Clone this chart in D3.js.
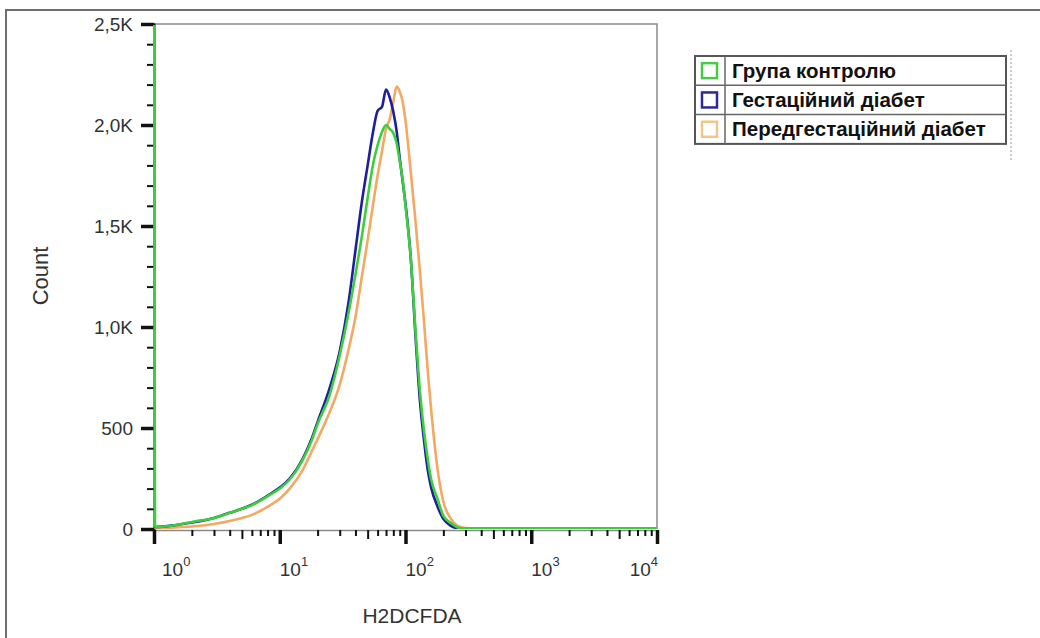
<!DOCTYPE html>
<html>
<head>
<meta charset="utf-8">
<script src="https://cdn.jsdelivr.net/npm/d3@7"></script>
<style>
  body { margin: 0; background: #fff; }
  text { font-family: "Liberation Sans", Arial, sans-serif; }
</style>
</head>
<body>
<script>
// channel values (H2DCFDA, log axis) shared by all three histograms
var channel = [1, 1.02, 1.5, 2, 3, 4, 5, 6, 8, 10, 12, 15, 18, 20, 25, 30, 35, 40, 45, 50, 55, 60, 65, 70, 75, 80, 85, 90, 95, 100,
               110, 120, 130, 140, 150, 160, 180, 200, 230, 260, 300, 500, 1000, 3000, 10000];

var controlCounts = [4000, 10, 20, 35, 55, 80, 100, 118, 162, 200, 245, 335, 440, 520, 665, 860, 1060, 1260, 1450, 1640, 1800, 1900, 1965, 2000, 1980, 1960, 1910, 1820, 1730, 1600,
                     1345, 985, 690, 490, 350, 245, 148, 65, 30, 8, 3, 3, 3, 3, 3];
var gestCounts = [10, 10, 20, 32, 55, 80, 100, 120, 165, 205, 250, 340, 450, 530, 700, 880, 1110, 1380, 1620, 1800, 1960, 2070, 2090, 2175, 2135, 2065, 1970, 1835, 1720, 1610,
                  1345, 960, 640, 445, 295, 205, 110, 50, 15, 4, 2, 2, 2, 2, 2];
var pregestCounts = [5, 5, 8, 12, 25, 40, 55, 70, 110, 150, 200, 285, 385, 445, 580, 715, 880, 1050, 1250, 1430, 1600, 1750, 1870, 1980, 2030, 2115, 2190, 2165, 2115, 2020,
                     1770, 1525, 1280, 1035, 790, 590, 295, 135, 50, 15, 5, 2, 2, 2, 2];

var seriesNames = ["Група контролю", "Гестаційний діабет", "Передгестаційний діабет"];
var seriesColors = ["#3ccf3c", "#1e1e9e", "#f4a862"];
var swatchColors = ["#45cc45", "#2a2a9a", "#f0c68c"];

var yMajor = [0, 500, 1000, 1500, 2000, 2500];
var yLabels = ["0", "500", "1,0K", "1,5K", "2,0K", "2,5K"];
var xMajor = [1, 10, 100, 1000, 10000];
var xExp = ["0", "1", "2", "3", "4"];

var svg = d3.select("body").append("svg")
    .attr("width", 1040)
    .attr("height", 638);

// outer frame
svg.append("path")
    .attr("d", "M6,640 L6,10 L1042,10")
    .attr("fill", "none")
    .attr("stroke", "#6e6e6e")
    .attr("stroke-width", 2);

var x = d3.scaleLog().domain([1, 10000]).range([154, 657]);
var y = d3.scaleLinear().domain([0, 2500]).range([529, 24]);

// plot border (top + right)
svg.append("path")
    .attr("d", "M" + x(1) + "," + y(2500) + " L" + x(10000) + "," + y(2500) + " L" + x(10000) + "," + y(0))
    .attr("fill", "none")
    .attr("stroke", "#8a8a8a")
    .attr("stroke-width", 1.5);

// y axis minor
var yMinor = d3.range(0, 2501, 100).filter(function(d){ return d % 500 != 0; });
var gyMinor = svg.append("g")
    .attr("transform", "translate(" + x(1) + ",0)")
    .call(d3.axisLeft(y).tickValues(yMinor).tickSize(7).tickFormat(""));
gyMinor.select(".domain").remove();
gyMinor.selectAll("line").attr("stroke", "#111").attr("stroke-width", 2);

var gy = svg.append("g")
    .attr("transform", "translate(" + x(1) + ",0)")
    .call(d3.axisLeft(y).tickValues(yMajor).tickSize(13).tickPadding(8)
        .tickFormat(function(d, i){ return yLabels[i]; }));
gy.select(".domain").attr("stroke", "#111").attr("stroke-width", 2);
gy.selectAll("line").attr("stroke", "#111").attr("stroke-width", 3.5);
gy.selectAll("text").attr("font-size", 19).attr("fill", "#333")
    .attr("font-family", "Liberation Sans, Arial, sans-serif");

// x axis minor
var xMinor = [];
for (var k = 0; k < 4; k++) {
  for (var m = 2; m <= 9; m++) xMinor.push(m * Math.pow(10, k));
}
var gxMinor = svg.append("g")
    .attr("transform", "translate(0," + (y(0) + 1) + ")")
    .call(d3.axisBottom(x).tickValues(xMinor).tickSizeInner(6).tickSizeOuter(0).tickFormat(""));
gxMinor.select(".domain").attr("stroke", "#8a8a8a").attr("stroke-width", 1.5);
gxMinor.selectAll("line").attr("stroke", "#111").attr("stroke-width", 2)
    .attr("y2", function(d){ return (d / Math.pow(10, Math.floor(Math.log10(d) + 1e-9)) == 5) ? 9 : 6; });

var gx = svg.append("g")
    .attr("transform", "translate(0," + (y(0) + 1) + ")")
    .call(d3.axisBottom(x).tickValues(xMajor).tickSize(14).tickFormat(""));
gx.select(".domain").remove();
gx.selectAll("line").attr("stroke", "#111").attr("stroke-width", 3.5);

var xl = svg.append("g").selectAll("text")
    .data(xMajor)
    .enter()
    .append("text")
    .attr("x", function(d, i){ return i == 0 ? x(d) + 8 : (i == 4 ? x(d) + 1 : x(d)); })
    .attr("y", 576)
    .attr("text-anchor", function(d, i){ return i == 4 ? "end" : "start"; })
    .attr("font-size", 19)
    .attr("fill", "#333");
xl.append("tspan").text("10");
xl.append("tspan").attr("dy", -10).attr("font-size", 13).text(function(d, i){ return xExp[i]; });

// axis titles
svg.append("text")
    .attr("transform", "translate(48,276) rotate(-90)")
    .attr("text-anchor", "middle")
    .attr("font-size", 22)
    .attr("fill", "#333")
    .text("Count");

svg.append("text")
    .attr("x", 412)
    .attr("y", 623)
    .attr("text-anchor", "middle")
    .attr("font-size", 21)
    .attr("fill", "#333")
    .text("H2DCFDA");

// histograms
svg.append("clipPath").attr("id", "plotclip")
  .append("rect")
    .attr("x", x(1) - 2).attr("y", y(2500) + 1)
    .attr("width", x(10000) - x(1) + 2).attr("height", y(0) - y(2500) - 1);

var line = d3.line()
    .x(function(d){ return x(d[0]); })
    .y(function(d){ return y(d[1]); })
    .curve(d3.curveMonotoneX);

var allCounts = [controlCounts, gestCounts, pregestCounts];
var drawOrder = [2, 1, 0];
var plot = svg.append("g").attr("clip-path", "url(#plotclip)");
drawOrder.forEach(function(s){
  plot.append("path")
      .datum(channel.map(function(c, i){ return [c, allCounts[s][i]]; }))
      .attr("d", line)
      .attr("fill", "none")
      .attr("stroke", seriesColors[s])
      .attr("stroke-width", 2.6)
      .attr("stroke-linejoin", "round");
});

// legend
var lgX = 695, lgY = 56, lgW = 311, rowH = 29.3;
var lg = svg.append("g");
lg.append("rect")
    .attr("x", lgX).attr("y", lgY)
    .attr("width", lgW).attr("height", rowH * 3)
    .attr("fill", "#fff")
    .attr("stroke", "#555")
    .attr("stroke-width", 2);
lg.append("line")
    .attr("x1", lgX + 30).attr("x2", lgX + 30)
    .attr("y1", lgY).attr("y2", lgY + rowH * 3)
    .attr("stroke", "#666").attr("stroke-width", 1.5);
var rows = lg.selectAll("g.row")
    .data(seriesNames)
    .enter()
    .append("g")
    .attr("class", "row")
    .attr("transform", function(d, i){ return "translate(0," + (lgY + i * rowH) + ")"; });
rows.filter(function(d, i){ return i > 0; })
  .append("line")
    .attr("x1", lgX).attr("x2", lgX + lgW)
    .attr("y1", 0).attr("y2", 0)
    .attr("stroke", "#666").attr("stroke-width", 1.5);
rows.append("rect")
    .attr("x", lgX + 7).attr("y", rowH / 2 - 7.5)
    .attr("width", 15).attr("height", 15)
    .attr("fill", "#fff")
    .attr("stroke", function(d, i){ return swatchColors[i]; })
    .attr("stroke-width", 2.5);
rows.append("text")
    .attr("x", lgX + 37)
    .attr("y", rowH / 2 + 7)
    .attr("font-size", 20.5)
    .attr("font-weight", "bold")
    .attr("fill", "#111")
    .text(function(d){ return d; });

svg.append("line")
    .attr("x1", 1011).attr("x2", 1011)
    .attr("y1", 50).attr("y2", 160)
    .attr("stroke", "#999")
    .attr("stroke-width", 1)
    .attr("stroke-dasharray", "2,2");
</script>
</body>
</html>
